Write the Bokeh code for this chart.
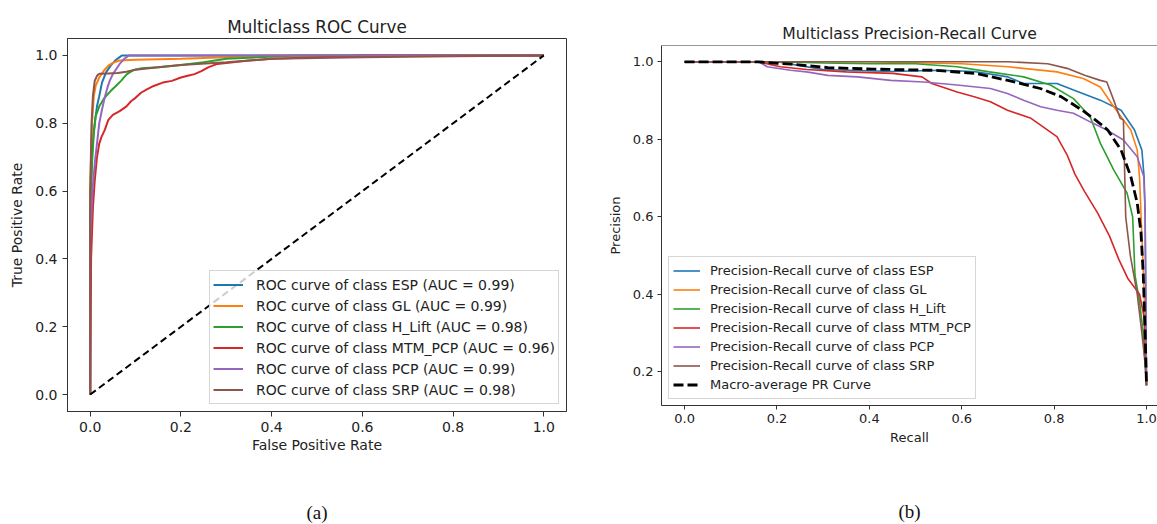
from bokeh.plotting import figure
from bokeh.layouts import row, column
from bokeh.models import (Legend, LegendItem, FixedTicker, PrintfTickFormatter, Range1d,
                          Title, Span)
from bokeh.embed import file_html
from bokeh.resources import INLINE

# ---------------------------------------------------------------- data
class_names = ["ESP", "GL", "H_Lift", "MTM_PCP", "PCP", "SRP"]
auc_values = [0.99, 0.99, 0.98, 0.96, 0.99, 0.98]
tab_colors = ["#1f77b4", "#ff7f0e", "#2ca02c", "#d62728", "#9467bd", "#8c564b"]
ticks = [0.0, 0.2, 0.4, 0.6, 0.8, 1.0]

# ROC curves (false positive rate, true positive rate)
esp_fpr = [0.0, 0.0, 0.003, 0.006, 0.01, 0.015, 0.02, 0.026, 0.035, 0.045, 0.055, 0.065, 0.07, 1.0]
esp_tpr = [0.0, 0.55, 0.68, 0.75, 0.8, 0.85, 0.88, 0.92, 0.95, 0.97, 0.985, 0.995, 1.0, 1.0]

gl_fpr = [0.0, 0.0, 0.004, 0.008, 0.012, 0.02, 0.03, 0.04, 0.05, 0.065, 0.1, 0.2, 0.3, 0.4, 1.0]
gl_tpr = [0.0, 0.6, 0.8, 0.88, 0.91, 0.935, 0.955, 0.97, 0.978, 0.985, 0.987, 0.99, 0.995, 1.0, 1.0]

hl_fpr = [0.0, 0.0, 0.004, 0.008, 0.012, 0.02, 0.032, 0.045, 0.056, 0.068, 0.081, 0.095, 0.114,
          0.15, 0.2, 0.25, 0.3, 0.35, 0.45, 1.0]
hl_tpr = [0.0, 0.5, 0.68, 0.77, 0.82, 0.85, 0.876, 0.895, 0.909, 0.925, 0.945, 0.957, 0.962,
          0.965, 0.972, 0.98, 0.99, 0.993, 1.0, 1.0]

mtm_fpr = [0.0, 0.002, 0.006, 0.01, 0.015, 0.02, 0.025, 0.032, 0.04, 0.05, 0.065, 0.08, 0.09,
           0.1, 0.112, 0.125, 0.14, 0.16, 0.18, 0.2, 0.215, 0.23, 0.245, 0.26, 0.28, 0.3, 0.35,
           0.4, 0.5, 0.6, 1.0]
mtm_tpr = [0.0, 0.4, 0.55, 0.63, 0.7, 0.74, 0.76, 0.78, 0.81, 0.825, 0.836, 0.85, 0.865,
           0.875, 0.89, 0.9, 0.91, 0.92, 0.925, 0.935, 0.94, 0.945, 0.954, 0.965, 0.975, 0.978,
           0.985, 0.99, 0.995, 1.0, 1.0]

pcp_fpr = [0.0, 0.0, 0.005, 0.01, 0.015, 0.02, 0.026, 0.032, 0.038, 0.043, 0.05, 0.055, 0.065,
           0.075, 0.085, 1.0]
pcp_tpr = [0.0, 0.45, 0.6, 0.68, 0.74, 0.8, 0.84, 0.876, 0.905, 0.925, 0.945, 0.955, 0.975,
           0.99, 1.0, 1.0]

srp_fpr = [0.0, 0.0, 0.003, 0.006, 0.01, 0.015, 0.02, 0.04, 0.06, 0.08, 0.1, 0.15, 0.2, 0.3,
           0.4, 0.6, 0.8, 1.0]
srp_tpr = [0.0, 0.6, 0.8, 0.88, 0.925, 0.94, 0.946, 0.947, 0.948, 0.952, 0.958, 0.965, 0.972,
           0.98, 0.99, 0.995, 0.998, 1.0]

chance_x = [0.0, 1.0]
chance_y = [0.0, 1.0]

# Precision-recall curves (recall, precision)
esp_rec = [0.0, 0.2, 0.25, 0.3, 0.45, 0.55, 0.627, 0.7, 0.734, 0.806, 0.842, 0.9, 0.945,
           0.974, 0.99, 0.995, 0.997, 1.0]
esp_prec = [1.0, 1.0, 0.99, 0.98, 0.975, 0.978, 0.975, 0.961, 0.944, 0.944, 0.927, 0.901,
            0.875, 0.824, 0.772, 0.7, 0.6, 0.165]

gl_rec = [0.0, 0.4, 0.6, 0.7, 0.806, 0.863, 0.9, 0.929, 0.95, 0.966, 0.98, 0.985, 0.99,
          0.995, 1.0]
gl_prec = [1.0, 1.0, 0.995, 0.987, 0.974, 0.957, 0.935, 0.884, 0.85, 0.824, 0.772, 0.7,
           0.55, 0.4, 0.165]

hl_rec = [0.0, 0.2, 0.3, 0.4, 0.5, 0.59, 0.66, 0.734, 0.792, 0.842, 0.878, 0.9, 0.929, 0.958,
          0.97, 0.975, 0.985, 0.993, 1.0]
hl_prec = [1.0, 1.0, 0.997, 0.995, 0.995, 0.987, 0.974, 0.961, 0.94, 0.905, 0.858, 0.79,
           0.721, 0.661, 0.6, 0.45, 0.38, 0.3, 0.165]

mtm_rec = [0.0, 0.16, 0.207, 0.264, 0.35, 0.45, 0.514, 0.535, 0.59, 0.627, 0.662, 0.699,
           0.75, 0.806, 0.828, 0.845, 0.866, 0.894, 0.92, 0.94, 0.96, 0.985, 0.995, 1.0]
mtm_prec = [1.0, 1.0, 0.987, 0.98, 0.974, 0.97, 0.961, 0.944, 0.922, 0.91, 0.897, 0.875,
            0.854, 0.807, 0.76, 0.71, 0.665, 0.61, 0.55, 0.49, 0.44, 0.4, 0.34, 0.165]

pcp_rec = [0.0, 0.16, 0.179, 0.229, 0.264, 0.31, 0.374, 0.446, 0.518, 0.59, 0.662, 0.699,
           0.734, 0.771, 0.806, 0.842, 0.878, 0.914, 0.95, 0.98, 0.994, 0.997, 1.0]
pcp_prec = [1.0, 1.0, 0.987, 0.978, 0.974, 0.965, 0.961, 0.952, 0.948, 0.94, 0.931, 0.918,
            0.901, 0.884, 0.875, 0.867, 0.845, 0.824, 0.798, 0.755, 0.704, 0.62, 0.165]

srp_rec = [0.0, 0.7, 0.786, 0.828, 0.866, 0.9, 0.914, 0.929, 0.943, 0.95, 0.955, 0.965, 0.98,
           0.99, 0.997, 1.0]
srp_prec = [1.0, 1.0, 0.995, 0.983, 0.965, 0.952, 0.948, 0.901, 0.854, 0.85, 0.6, 0.5, 0.4,
            0.3, 0.22, 0.165]

macro_rec = [0.0, 0.16, 0.2, 0.23, 0.31, 0.41, 0.54, 0.63, 0.7, 0.77, 0.815, 0.866, 0.9,
             0.916, 0.945, 0.966, 0.98, 0.988, 0.993, 0.997, 1.0]
macro_prec = [1.0, 1.0, 0.996, 0.994, 0.985, 0.981, 0.978, 0.97, 0.952, 0.931, 0.91, 0.871,
              0.84, 0.824, 0.772, 0.704, 0.635, 0.56, 0.45, 0.3, 0.165]

roc_curves = [(esp_fpr, esp_tpr), (gl_fpr, gl_tpr), (hl_fpr, hl_tpr),
              (mtm_fpr, mtm_tpr), (pcp_fpr, pcp_tpr), (srp_fpr, srp_tpr)]
pr_curves = [(esp_rec, esp_prec), (gl_rec, gl_prec), (hl_rec, hl_prec),
             (mtm_rec, mtm_prec), (pcp_rec, pcp_prec), (srp_rec, srp_prec)]

TEXT = "#222222"
SPINE = "#333333"
FONT = "DejaVu Sans"


def style(p, font_px, tick_len, ylabel_gap, xlabel_gap):
    p.grid.visible = False
    p.background_fill_color = "white"
    p.border_fill_color = "white"
    p.title.text_font = FONT
    p.title.text_font_style = "normal"
    p.title.text_color = TEXT
    p.title.align = "center"
    for ax in (p.xaxis[0], p.yaxis[0]):
        ax.ticker = FixedTicker(ticks=ticks)
        ax.formatter = PrintfTickFormatter(format="%.1f")
        ax.major_label_text_font = FONT
        ax.major_label_text_font_size = f"{font_px}px"
        ax.major_label_text_color = TEXT
        ax.axis_label_text_font = FONT
        ax.axis_label_text_font_size = f"{font_px}px"
        ax.axis_label_text_font_style = "normal"
        ax.axis_label_text_color = TEXT
        ax.major_tick_in = 0
        ax.major_tick_out = tick_len
        ax.minor_tick_in = 0
        ax.minor_tick_out = 0
        ax.major_tick_line_color = SPINE
        ax.axis_line_color = SPINE
        ax.major_label_standoff = tick_len
    p.yaxis[0].axis_label_standoff = ylabel_gap
    p.xaxis[0].axis_label_standoff = xlabel_gap


def caption(p, text, gap):
    # blank strip under the x axis, then the sub-figure caption
    p.add_layout(Title(text=" ", text_font_size="1px", standoff=gap), "below")
    p.add_layout(Title(text=text, align="center", text_font="Liberation Serif",
                       text_font_size="19px", text_font_style="normal",
                       text_color="#111111", standoff=0), "below")


# ---------------------------------------------------------------- ROC panel
p1 = figure(width=600, height=524, x_range=Range1d(-0.05, 1.05), y_range=Range1d(-0.05, 1.05),
            output_backend="svg", toolbar_location=None, title="Multiclass ROC Curve",
            min_border_left=67, min_border_right=34, min_border_top=38, min_border_bottom=113)
style(p1, 14, 5, 7, 2)
p1.title.text_font_size = "16.8px"
p1.title.standoff = 4
p1.outline_line_color = SPINE
p1.outline_line_width = 1
p1.xaxis.axis_label = "False Positive Rate"
p1.yaxis.axis_label = "True Positive Rate"

roc_items = []
for (fx, ty), name, auc, col in zip(roc_curves, class_names, auc_values, tab_colors):
    r = p1.line(fx, ty, line_color=col, line_width=2)
    roc_items.append(LegendItem(label=f"ROC curve of class {name} (AUC = {auc:.2f})", renderers=[r]))
p1.line(chance_x, chance_y, line_color="black", line_width=2, line_dash="7 4")

leg1 = Legend(items=roc_items, location=(142, 7), orientation="vertical",
              label_text_font=FONT, label_text_font_size="14px", label_text_color=TEXT,
              glyph_width=30, glyph_height=21, label_height=21, label_standoff=13,
              spacing=0, padding=3, margin=0,
              border_line_color="#cccccc", border_line_alpha=0.8,
              background_fill_color="white", background_fill_alpha=0.8)
p1.add_layout(leg1)
caption(p1, "(a)", 41)

# ---------------------------------------------------------------- PR panel
p2 = figure(width=557, height=524, x_range=Range1d(-0.05, 1.0238), y_range=Range1d(0.113, 1.042),
            output_backend="svg", toolbar_location=None, title="Multiclass Precision-Recall Curve",
            min_border_left=61, min_border_right=0, min_border_top=45, min_border_bottom=119)
style(p2, 13, 4, 7, 4)
p2.title.text_font_size = "15.6px"
p2.title.standoff = 6
p2.outline_line_color = None
p2.xaxis.axis_label = "Recall"
p2.yaxis.axis_label = "Precision"
# top spine (the right-hand spine lies past the page edge)
p2.add_layout(Span(location=1.042, dimension="width", line_color=SPINE, line_width=1.2))

pr_items = []
for (rx, py), name, col in zip(pr_curves, class_names, tab_colors):
    r = p2.line(rx, py, line_color=col, line_width=1.6)
    pr_items.append(LegendItem(label=f"Precision-Recall curve of class {name}", renderers=[r]))
rm = p2.line(macro_rec, macro_prec, line_color="black", line_width=2.8, line_dash="10 4")
pr_items.append(LegendItem(label="Macro-average PR Curve", renderers=[rm]))

leg2 = Legend(items=pr_items, location=(7, 6), orientation="vertical",
              label_text_font=FONT, label_text_font_size="13px", label_text_color=TEXT,
              glyph_width=27, glyph_height=19, label_height=19, label_standoff=10,
              spacing=0, padding=4, margin=0,
              border_line_color="#cccccc", border_line_alpha=0.8,
              background_fill_color="white", background_fill_alpha=0.8)
p2.add_layout(leg2)
caption(p2, "(b)", 48)

layout = row(column(p1), column(p2))
open("out.html", "w").write(file_html(layout, INLINE))
